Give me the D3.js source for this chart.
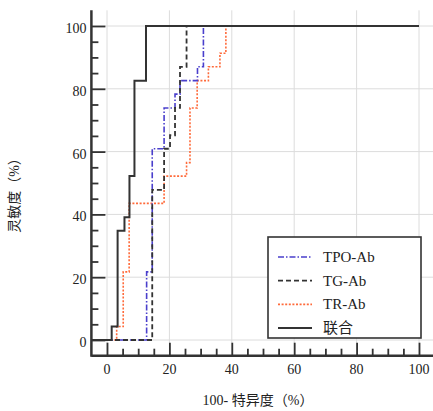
<!DOCTYPE html>
<html>
<head>
<meta charset="utf-8">
<script src="https://cdn.jsdelivr.net/npm/d3@7"></script>
<style>
  body { margin: 0; background: #fff; }
  text { font-family: "Liberation Serif", "Noto Sans CJK SC", serif; fill: #222; }
</style>
</head>
<body>
<div id="chart"></div>
<script>
// step corners (100-specificity, sensitivity)
var tpo_x = [0, 12.7, 14.5, 18.3, 21.8, 23.4, 29.0, 30.9, 100];
var tpo_y = [0, 21.7, 60.9, 73.9, 78.3, 82.6, 87.0, 100, 100];

var tg_x = [0, 14.5, 18.3, 20.2, 21.8, 23.4, 25.5, 100];
var tg_y = [0, 47.8, 60.9, 65.2, 73.9, 87.0, 100, 100];

var tr_x = [0, 3.1, 5.2, 7.1, 18.3, 25.5, 26.6, 28.9, 32.5, 36.2, 38.1, 100];
var tr_y = [0, 4.3, 21.7, 43.5, 52.2, 56.5, 73.9, 82.6, 87.0, 91.3, 100, 100];

var comb_x = [-5, 1.5, 3.4, 5.6, 7.2, 8.8, 12.5, 100];
var comb_y = [0, 4.3, 34.8, 39.1, 52.2, 82.6, 100, 100];

var series_names = ["TPO-Ab", "TG-Ab", "TR-Ab", "联合"];
var major_ticks = [0, 20, 40, 60, 80, 100];

var svg_w = 433, svg_h = 411;
var svg = d3.select("#chart")
    .append("svg")
    .attr("width", svg_w)
    .attr("height", svg_h);

var xScale = d3.scaleLinear().domain([-5, 105]).range([91.4, 434.6]);
var yScale = d3.scaleLinear().domain([-5, 105]).range([355.7, 10.3]);

// grid
var grid = svg.append("g").attr("id", "grid");
grid.selectAll("line.v")
    .data(major_ticks)
    .enter()
    .append("line")
    .attr("x1", function(d){ return xScale(d); })
    .attr("x2", function(d){ return xScale(d); })
    .attr("y1", yScale(105))
    .attr("y2", yScale(-5))
    .style("stroke", "#dcdcdc")
    .style("stroke-width", 1);
grid.selectAll("line.h")
    .data(major_ticks)
    .enter()
    .append("line")
    .attr("y1", function(d){ return yScale(d); })
    .attr("y2", function(d){ return yScale(d); })
    .attr("x1", xScale(-5))
    .attr("x2", xScale(105))
    .style("stroke", "#dcdcdc")
    .style("stroke-width", 1);

// axes (ticks point inward)
var xAxis = d3.axisTop(xScale)
    .tickValues(d3.range(0, 101, 5))
    .tickSize(7)
    .tickFormat("");
var gx = svg.append("g")
    .attr("transform", "translate(0," + yScale(-5) + ")")
    .call(xAxis);
gx.selectAll(".tick line")
    .attr("y2", function(d){ return d % 20 == 0 ? -13 : -7; })
    .style("stroke", "#333")
    .style("stroke-width", 1.8);
gx.select(".domain").remove();
gx.append("line")
    .attr("x1", xScale(-5)).attr("x2", svg_w)
    .style("stroke", "#333").style("stroke-width", 2.5);
gx.selectAll("text.lab")
    .data(major_ticks)
    .enter()
    .append("text")
    .attr("x", function(d){ return xScale(d); })
    .attr("y", 18)
    .attr("text-anchor", "middle")
    .style("font-size", "14px")
    .text(function(d){ return d; });

var yAxis = d3.axisRight(yScale)
    .tickValues(d3.range(0, 101, 5))
    .tickSize(7)
    .tickFormat("");
var gy = svg.append("g")
    .attr("transform", "translate(" + xScale(-5) + ",0)")
    .call(yAxis);
gy.selectAll(".tick line")
    .attr("x2", function(d){ return d % 20 == 0 ? 14 : 7; })
    .style("stroke", "#333")
    .style("stroke-width", 1.8);
gy.select(".domain").remove();
gy.append("line")
    .attr("y1", yScale(105)).attr("y2", yScale(-5) + 1)
    .style("stroke", "#333").style("stroke-width", 2.5);
gy.selectAll("text.lab")
    .data(major_ticks)
    .enter()
    .append("text")
    .attr("x", -5)
    .attr("y", function(d){ return yScale(d) + 7; })
    .attr("text-anchor", "end")
    .style("font-size", "14px")
    .text(function(d){ return d; });

// axis titles
svg.append("text")
    .attr("x", 258)
    .attr("y", 405)
    .attr("text-anchor", "middle")
    .style("font-size", "14px")
    .text("100- 特异度（%）");
svg.append("text")
    .attr("transform", "translate(19,192) rotate(-90)")
    .attr("text-anchor", "middle")
    .style("font-size", "14px")
    .text("灵敏度（%）");

// curves
var line = d3.line()
    .x(function(d){ return xScale(d[0]); })
    .y(function(d){ return yScale(d[1]); })
    .curve(d3.curveStepAfter);

var styles = [
    {name: series_names[2], xs: tr_x, ys: tr_y, color: "#ff6a3a", dash: "2,1.6", w: 1.6},
    {name: series_names[0], xs: tpo_x, ys: tpo_y, color: "#4a3fcc", dash: "6,2,1.5,2", w: 1.6},
    {name: series_names[1], xs: tg_x, ys: tg_y, color: "#333", dash: "5,3", w: 1.8},
    {name: series_names[3], xs: comb_x, ys: comb_y, color: "#333", dash: null, w: 2}
];

styles.forEach(function(s){
    var pts = s.xs.map(function(x, i){ return [x, s.ys[i]]; });
    svg.append("path")
        .datum(pts)
        .attr("d", line)
        .style("fill", "none")
        .style("stroke", s.color)
        .style("stroke-width", s.w)
        .style("stroke-dasharray", s.dash);
});

// legend
var legend = svg.append("g").attr("id", "legend");
legend.append("rect")
    .attr("x", 268).attr("y", 237)
    .attr("width", 153).attr("height", 101)
    .style("fill", "#fff")
    .style("stroke", "#333")
    .style("stroke-width", 1.6);

var legend_order = [1, 2, 0, 3];
legend_order.forEach(function(k, i){
    var s = styles[k];
    var yy = 257 + i * 23.7;
    legend.append("line")
        .attr("x1", 278).attr("x2", 312)
        .attr("y1", yy).attr("y2", yy)
        .style("stroke", s.color)
        .style("stroke-width", s.w)
        .style("stroke-dasharray", s.dash);
    legend.append("text")
        .attr("x", 323)
        .attr("y", yy + 5)
        .style("font-size", "15px")
        .text(s.name);
});
</script>
</body>
</html>
